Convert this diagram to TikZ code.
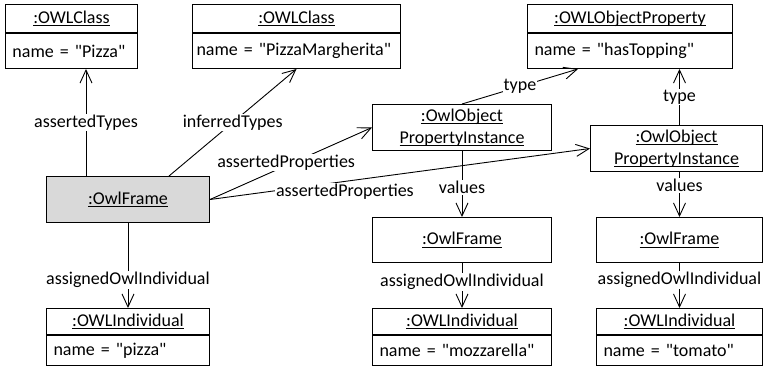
\documentclass[tikz,border=0pt]{standalone}
\usepackage{fontspec}
\setmainfont{Carlito}[Ligatures=TeXOff]
\usetikzlibrary{arrows.meta,calc,positioning}

\newsavebox{\titlebox}
\newcommand{\utitle}[1]{\sbox{\titlebox}{#1}\rlap{\rule[-3pt]{\wd\titlebox}{0.8pt}}\usebox{\titlebox}}

\begin{document}
\begin{tikzpicture}[x=1pt, y=-1pt,
		font=\fontsize{18}{22}\selectfont,
		>={Straight Barb[length=13pt,width=12pt]},
		objhead/.style={draw, line width=1pt, inner sep=0pt, anchor=north west, align=center},
		objattr/.style={draw, line width=1pt, inner xsep=7pt, inner ysep=0pt, align=left},
		assoc/.style={->, line width=0.9pt},
		lbl/.style={fill=white, inner sep=1pt}]
		\useasboundingbox (0,0) rectangle (763,368);
		
		% classes and property
		\node[objhead, minimum width=132pt, minimum height=28pt] (pizzaHead) at (5,4) {\utitle{:OWLClass}};
		\node[objattr, text width=118pt, minimum height=35pt, below=0pt of pizzaHead] (pizza) {name = "Pizza"};
		\node[objhead, minimum width=208pt, minimum height=28pt] (margHead) at (192,4) {\utitle{:OWLClass}};
		\node[objattr, inner xsep=4pt, text width=200pt, minimum height=35pt, below=0pt of margHead] (marg) {\mbox{name = "PizzaMargherita"}};
		\node[objhead, minimum width=205pt, minimum height=28pt] (propHead) at (527,4) {\utitle{:OWLObjectProperty}};
		\node[objattr, text width=191pt, minimum height=35pt, below=0pt of propHead] (prop) {name = "hasTopping"};
		
		% frames
		\node[objhead, fill=gray!30, minimum width=163pt, minimum height=46pt] (frame) at (46,176) {\utitle{:OwlFrame}};
		\node[objhead, minimum width=179pt, minimum height=46pt] (pi1) at (372,104) {\utitle{:OwlObject}\\\utitle{PropertyInstance}};
		\node[objhead, minimum width=172pt, minimum height=46pt] (pi2) at (590,125) {\utitle{:OwlObject}\\\utitle{PropertyInstance}};
		\node[objhead, minimum width=179pt, minimum height=45pt] (fr2) at (372,217) {\utitle{:OwlFrame}};
		\node[objhead, minimum width=166pt, minimum height=45pt] (fr3) at (596,217) {\utitle{:OwlFrame}};
		
		% individuals
		\node[objhead, minimum width=163pt, minimum height=26pt] (ind1Head) at (46,308) {\utitle{:OWLIndividual}};
		\node[objattr, text width=149pt, minimum height=30pt, below=0pt of ind1Head] (ind1) {name = "pizza"};
		\node[objhead, minimum width=179pt, minimum height=26pt] (ind2Head) at (372,308) {\utitle{:OWLIndividual}};
		\node[objattr, text width=165pt, minimum height=30pt, below=0pt of ind2Head] (ind2) {name = "mozzarella"};
		\node[objhead, minimum width=166pt, minimum height=26pt] (ind3Head) at (596,308) {\utitle{:OWLIndividual}};
		\node[objattr, text width=152pt, minimum height=30pt, below=0pt of ind3Head] (ind3) {name = "tomato"};
		
		% links
		\draw[assoc] ($(frame.north west)+(40,0)$) coordinate (typesFoot) -- (typesFoot |- pizza.south) node[lbl, midway] {assertedTypes};
		\draw[assoc] ($(frame.north east)+(-41,0)$) -- (marg.south) node[lbl, midway] {inferredTypes};
		\draw[assoc] (frame.east) -- (pi1.west) node[lbl, pos=0.47, yshift=3pt] {assertedProperties};
		\draw[assoc] (frame.east) -- (pi2.west) node[lbl, pos=0.355, yshift=-10pt] {assertedProperties};
		\draw[assoc] (pi1.north) -- ($(prop.south west)+(51,0)$) node[lbl, midway] {type};
		\draw[assoc] (pi2.north -| fr3.north) -- (prop.south -| fr3.north) node[lbl, midway] {type};
		\draw[assoc] (pi1.south) -- (fr2.north) node[lbl, pos=0.55] {values};
		\draw[assoc] (pi2.south -| fr3.north) -- (fr3.north) node[lbl, pos=0.3] {values};
		\draw[assoc] (frame.south) -- (ind1Head.north) node[lbl, pos=0.67] {assignedOwlIndividual};
		\draw[assoc] (fr2.south) -- (ind2Head.north) node[lbl, pos=0.42] {assignedOwlIndividual};
		\draw[assoc] (fr3.south) -- (ind3Head.north) node[lbl, pos=0.38] {assignedOwlIndividual};
\end{tikzpicture}
\end{document}
